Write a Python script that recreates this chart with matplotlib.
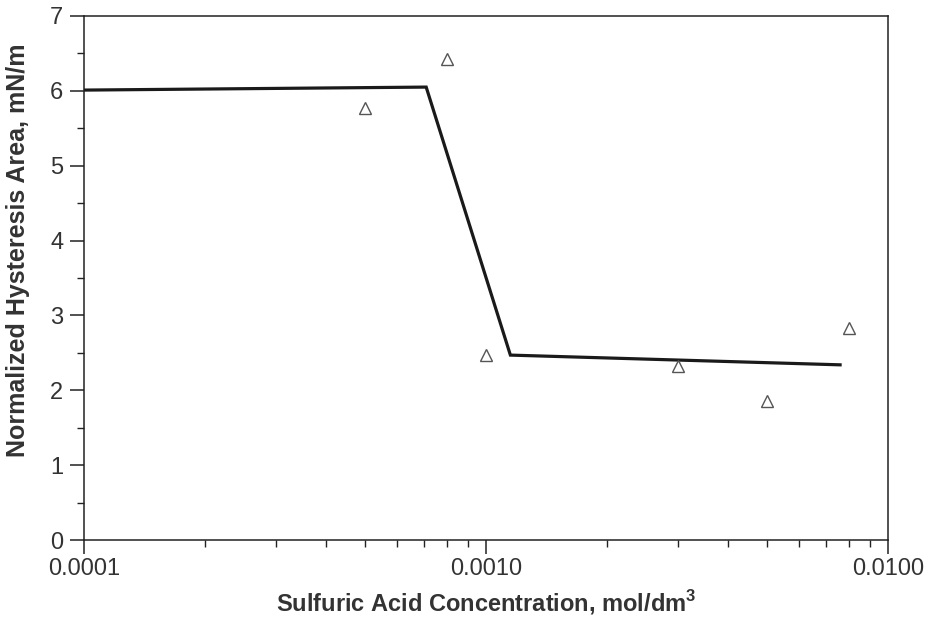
import matplotlib
matplotlib.use("Agg")
import matplotlib.pyplot as plt
from matplotlib.ticker import FixedLocator, LogLocator, NullFormatter, MultipleLocator

plt.rcParams['font.family'] = ['Liberation Sans', 'DejaVu Sans']

# Data
conc_points = [0.0005, 0.0008, 0.0010, 0.0030, 0.0050, 0.0080]
hyst_points = [5.77, 6.42, 2.47, 2.32, 1.86, 2.83]

conc_line = [0.0001, 0.00071, 0.00115, 0.0076]
hyst_line = [6.01, 6.05, 2.47, 2.34]

xtick_vals = [0.0001, 0.001, 0.01]
xtick_labels = ["0.0001", "0.0010", "0.0100"]
ytick_vals = [0, 1, 2, 3, 4, 5, 6, 7]

fig = plt.figure(figsize=(9.31, 6.19), dpi=100)
ax = fig.add_axes([0.0902, 0.1276, 0.8636, 0.8466])

ax.plot(conc_line, hyst_line, color='#1a1a1a', lw=2.3, solid_joinstyle='miter', zorder=3)
ax.plot(conc_points, hyst_points, linestyle='none', marker='^', markersize=8.5,
        markerfacecolor='none', markeredgecolor='#555555', markeredgewidth=1.0, zorder=4)

ax.set_xscale('log')
ax.set_xlim(0.0001, 0.01)
ax.set_ylim(0, 7)

ax.xaxis.set_major_locator(FixedLocator(xtick_vals))
ax.set_xticklabels(xtick_labels)
ax.xaxis.set_minor_locator(LogLocator(base=10, subs=range(2, 10)))
ax.xaxis.set_minor_formatter(NullFormatter())

ax.yaxis.set_major_locator(FixedLocator(ytick_vals))
ax.set_yticklabels([str(v) for v in ytick_vals])
ax.yaxis.set_minor_locator(MultipleLocator(0.5))

for s in ax.spines.values():
    s.set_linewidth(1.1)
    s.set_color('#222222')

ax.tick_params(which='major', direction='out', length=10, width=1.1, color='#222222',
               labelsize=17, labelcolor='#333333', top=False, right=False, pad=3)
ax.tick_params(axis='y', which='major', pad=5)
ax.tick_params(which='minor', direction='out', length=5, width=1.0, color='#222222',
               top=False, right=False)

ax.set_xlabel('Sulfuric Acid Concentration, mol/dm$^{\\mathregular{3}}$', fontsize=17, fontweight='bold',
              color='#333333', labelpad=6)
ax.set_ylabel('Normalized Hysteresis Area, mN/m', fontsize=18, fontweight='bold',
              color='#333333', va='center')
ax.yaxis.set_label_coords(-0.082, 0.553)

fig.savefig('out.png', dpi=100)
